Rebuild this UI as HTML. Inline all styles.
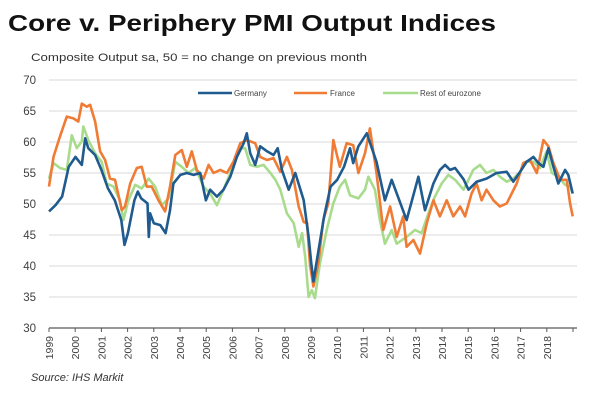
<!DOCTYPE html>
<html><head><meta charset="utf-8"><style>
body{margin:0;background:#fff;width:600px;height:407px;overflow:hidden;font-family:"Liberation Sans",Arial,sans-serif}
svg text{font-family:"Liberation Sans",Arial,sans-serif}
</style></head><body>
<svg id="chart" width="600" height="407" viewBox="0 0 600 407" xmlns="http://www.w3.org/2000/svg">
<text x="8" y="31" font-size="23" font-weight="bold" fill="#111" textLength="488" lengthAdjust="spacingAndGlyphs">Core v. Periphery PMI Output Indices</text>
<text x="31" y="61" font-size="11" fill="#333" textLength="336" lengthAdjust="spacingAndGlyphs">Composite Output sa, 50 = no change  on previous  month</text>
<g id="grid"></g><g id="axes"></g><g id="series"></g>
<g>
<line x1="198" y1="93" x2="232" y2="93" stroke="#1f5b8e" stroke-width="2.5"/><text x="234" y="96" font-size="8" fill="#444">Germany</text>
<line x1="294" y1="93" x2="327" y2="93" stroke="#f07b35" stroke-width="2.5"/><text x="330" y="96" font-size="8" fill="#444">France</text>
<line x1="383" y1="93" x2="418" y2="93" stroke="#a8dc8c" stroke-width="2.5"/><text x="420" y="96" font-size="8" fill="#444">Rest of eurozone</text>
</g>
<text x="31" y="381" font-size="11" font-style="italic" fill="#333">Source:  IHS Markit</text>
</svg>
<script>
const yTicks=[30,35,40,45,50,55,60,65,70];
const yearLabels=["1999","2000","2001","2002","2003","2004","2005","2006","2007","2008","2009","2010","2011","2012","2013","2014","2015","2016","2017","2018"];
const deT=[0,.25,.5,.75,1.01,1.25,1.38,1.5,1.76,2.0,2.25,2.51,2.76,2.88,3.01,3.26,3.39,3.52,3.76,3.81,3.86,4.0,4.25,4.45,4.62,4.75,5.01,5.26,5.52,5.77,5.99,6.15,6.41,6.66,6.92,7.17,7.43,7.55,7.68,7.87,8.06,8.32,8.57,8.73,8.89,9.15,9.4,9.72,9.91,10.01,10.09,10.5,10.75,11.0,11.26,11.49,11.61,11.81,12.13,12.5,12.82,13.08,13.65,14.1,14.35,14.67,14.92,15.12,15.31,15.5,15.82,16.01,16.32,16.7,17.08,17.47,17.72,17.98,18.23,18.49,18.68,18.87,19.06,19.25,19.44,19.7,19.82,19.99];
const deV=[48.8,49.8,51.2,56,57.6,56.3,60.6,59,57.9,55.5,52.5,50.6,47.4,43.4,45.3,50.6,52,50.9,50.1,44.7,48.5,46.9,46.6,45.3,49,53.3,54.7,55,54.7,55,50.6,52.3,51.2,52.3,54.4,57.6,59.8,61.4,58.2,56.3,59.3,58.5,57.9,59,55.5,52.3,55,50.6,44.7,40.4,37.5,48,52.8,53.9,56,59,56.6,59.3,61.4,56.8,50.6,53.9,47.4,54.4,49,53.3,55.5,56.3,55.5,55.8,54,52.3,53.6,54.1,55,55.2,53.6,55.2,56.8,57.6,56.6,56,59,56,53.3,55.5,54.7,51.7];
const frT=[0,.17,.42,.68,.93,1.12,1.25,1.44,1.57,1.76,1.95,2.14,2.33,2.52,2.78,2.9,3.1,3.35,3.54,3.73,3.92,4.18,4.43,4.62,4.82,5.07,5.26,5.45,5.64,5.9,6.09,6.28,6.54,6.79,7.04,7.3,7.55,7.87,8.06,8.32,8.57,8.83,9.08,9.27,9.53,9.72,9.85,9.96,10.09,10.28,10.47,10.66,10.85,11.1,11.36,11.61,11.81,12.06,12.25,12.5,12.76,13.02,13.27,13.52,13.65,13.91,14.16,14.42,14.67,14.92,15.18,15.43,15.69,15.88,16.13,16.32,16.51,16.7,16.96,17.21,17.47,17.66,17.85,18.1,18.36,18.62,18.87,19.06,19.25,19.51,19.76,19.89,19.99];
const frV=[52.8,57.6,60.9,64.1,63.8,63.3,66.2,65.7,66,63.3,58.5,57.1,54.1,53.9,49,49.6,53.3,55.8,56,52.8,52.8,50.6,48.8,52.8,57.9,58.7,56,58.5,55.5,54.1,56.3,55,55.5,55,56.8,59.8,60.3,59.8,57.6,57.1,57.4,55.2,57.6,55.5,49.6,47.1,46.9,40.2,36.7,40.4,47.4,50.1,60.3,56,59.8,59.5,55,58.2,62.2,55,45.8,49.6,44.7,48,43.1,44.2,42,46.9,50.6,48,50.6,48,49.6,48,51.7,53.3,50.6,52.3,50.6,49.6,50.1,51.7,53.3,56.6,57.1,55,60.3,59.3,56.6,53.9,53.9,50.1,48];
const reT=[0,.17,.42,.68,.87,1.06,1.25,1.31,1.5,1.76,2.01,2.2,2.46,2.71,2.84,3.03,3.29,3.54,3.8,4.05,4.31,4.56,4.82,5.07,5.32,5.58,5.9,6.15,6.41,6.66,6.92,7.24,7.49,7.68,7.94,8.19,8.45,8.64,8.83,9.08,9.34,9.53,9.66,9.78,9.91,10.03,10.15,10.34,10.6,10.85,11.1,11.3,11.49,11.81,12.06,12.19,12.44,12.63,12.82,13.08,13.27,13.65,13.97,14.22,14.48,14.73,14.99,15.24,15.5,15.82,16.01,16.19,16.45,16.7,16.96,17.21,17.47,17.72,17.98,18.23,18.49,18.74,18.99,19.19,19.44,19.7,19.89,19.99];
const reV=[54.1,56.6,55.8,55.5,61.1,59,60.1,62.5,60.3,58.2,56.8,53.3,52.8,50.6,47.4,50.6,53.1,52.5,54.1,52.8,49.8,50.9,56.8,56,55,55.8,52.8,51.7,49.8,52.3,55,59,59,56.3,56,56.3,55,53.9,52.3,48.5,46.9,43.1,45.3,41.5,35,36.1,34.8,40.4,45.8,50.1,52.8,53.9,51.4,50.9,52.3,54.4,52.3,47.4,43.6,45.8,43.6,44.7,45.8,45.3,48.5,51.2,53.3,54.7,53.9,52.3,53.9,55.5,56.3,55,55.5,54.4,53.6,54.1,55.2,56.8,56.8,55.8,58.5,55,54.4,53.1,52.8,51.7];

const NS="http://www.w3.org/2000/svg";
const X0=49,X1=573,Y0=328,Y1=80;
const xs=t=>X0+t*(X1-X0)/20;
const ys=v=>Y0-(v-30)*(Y0-Y1)/40;
function mk(tag,attrs,parent){const e=document.createElementNS(NS,tag);for(const k in attrs)e.setAttribute(k,attrs[k]);parent.appendChild(e);return e;}
const grid=document.getElementById('grid'),axes=document.getElementById('axes'),ser=document.getElementById('series');
yTicks.forEach(v=>{
  if(v>30){const g=mk('line',{x1:X0,x2:577,y1:ys(v),y2:ys(v),stroke:'#d9d9d9','stroke-width':1},grid);
  
  }
  const t=mk('text',{x:36,y:ys(v)+4,'text-anchor':'end','font-size':11.5,fill:'#404040'},axes);
  t.textContent=v;
  
  
});
const ax=mk('line',{x1:X0,x2:577,y1:Y0,y2:Y0,stroke:'#595959','stroke-width':1.3},axes);


for(let i=0;i<=20;i++){mk('line',{x1:xs(i),x2:xs(i),y1:Y0,y2:Y0+4,stroke:'#595959','stroke-width':1},axes);}
yearLabels.forEach((l,i)=>{
  const x=xs(i);
  const t=mk('text',{x:0,y:0,'text-anchor':'end','font-size':10.5,fill:'#404040',transform:`translate(${x+4},336) rotate(-90)`},axes);
  t.textContent=l;
  
  
});
function line(T,V,color,name){
  const d=T.map((t,i)=>(i?'L':'M')+xs(t).toFixed(1)+','+ys(V[i]).toFixed(1)).join('');
  const p=mk('path',{d,fill:'none',stroke:color,'stroke-width':2.6,'stroke-linejoin':'round'},ser);
  
  
}
line(reT,reV,'#a8dc8c','series-rest-of-eurozone');
line(frT,frV,'#f07b35','series-france');
line(deT,deV,'#1f5b8e','series-germany');
</script>
</body></html>
